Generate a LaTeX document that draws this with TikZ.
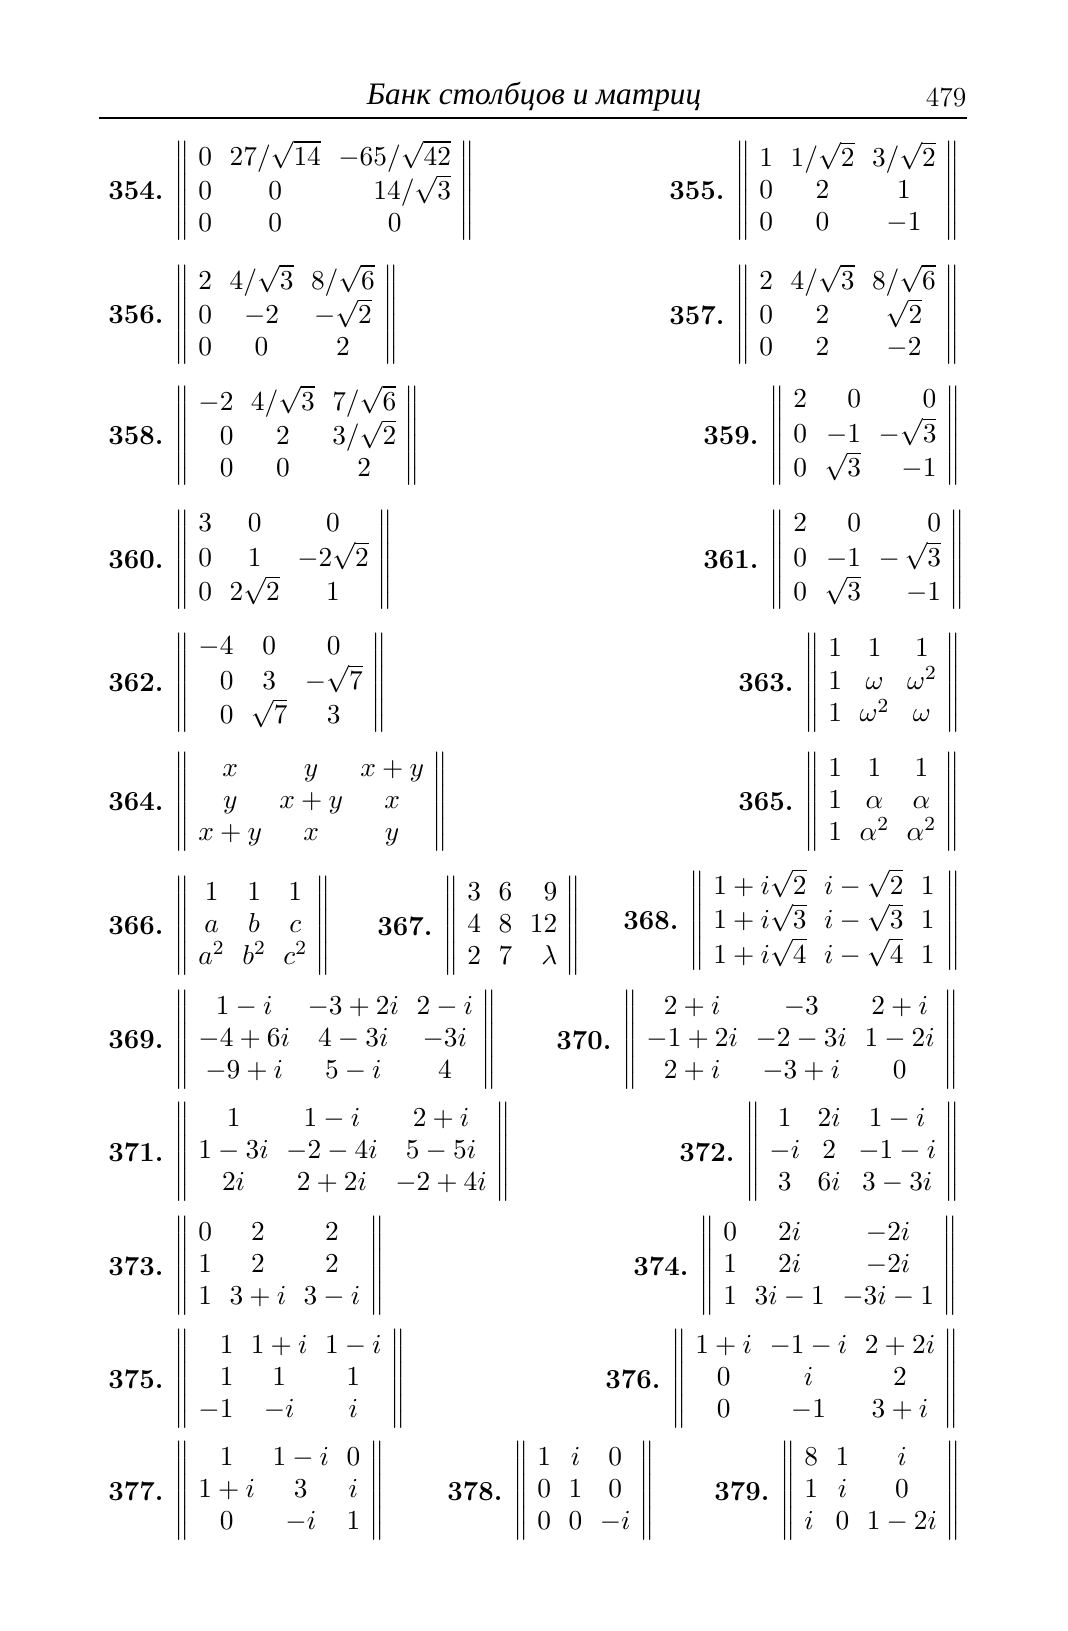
\documentclass[tikz,border=0pt]{standalone}
\usepackage{amsmath}
\usepackage{fontspec}
\newfontfamily\rusfont{Liberation Serif}
\usetikzlibrary{positioning}
\newcommand{\bodysize}{\fontsize{11}{12.9}\selectfont}
\tikzset{numlabel/.style = {font=\bodysize\bfseries, inner sep=0pt},
         matbox/.style = {font=\bodysize, inner sep=0pt, anchor=west}}
\newcommand{\nmat}[3][0]{\setlength\arraycolsep{3.5pt}$\left\|\begin{array}{#2}#3\end{array}\hspace{#1pt}\right\|$}

\begin{document}
\begin{tikzpicture}[x=0.4pt,y=-0.4pt]
            \useasboundingbox (0,0) rectangle (1067,1631);

            % running head
            \node (title) at (534,97) {\rusfont\itshape\fontsize{12.5}{14}\selectfont Банк столбцов и матриц};
            \node[font=\bodysize] (pagenum) at (946,97) {479};
            \draw[line width=0.5pt] (99,118) -- (967,118);

            \node[matbox] (m354) at (174,191) {\nmat{lcc}{0 & 27/\sqrt{14} & -65/\sqrt{42}\\ 0 & 0 & \multicolumn{1}{r}{14/\sqrt{3}}\\ 0 & 0 & 0}};
            \node[numlabel] (n354) [left=4pt of m354] {354.};
            \node[matbox] (m355) at (735,191) {\nmat{lcc}{1 & 1/\sqrt{2} & 3/\sqrt{2}\\ 0 & 2 & 1\\ 0 & 0 & -1}};
            \node[numlabel] (n355) [left=4pt of m355] {355.};

            \node[matbox] (m356) at (174,315) {\nmat{lcc}{2 & 4/\sqrt{3} & 8/\sqrt{6}\\ 0 & -2 & -\sqrt{2}\\ 0 & 0 & 2}};
            \node[numlabel] (n356) [left=4pt of m356] {356.};
            \node[matbox] (m357) at (735,315) {\nmat{lcc}{2 & 4/\sqrt{3} & 8/\sqrt{6}\\ 0 & 2 & \sqrt{2}\\ 0 & 2 & -2}};
            \node[numlabel] (n357) [left=4pt of m357] {357.};

            \node[matbox] (m358) at (174,436) {\nmat{rcc}{-2 & 4/\sqrt{3} & 7/\sqrt{6}\\ 0 & 2 & 3/\sqrt{2}\\ 0 & 0 & 2}};
            \node[numlabel] (n358) [left=4pt of m358] {358.};
            \node[matbox] (m359) at (769,436) {\nmat{lrr}{2 & 0 & 0\\ 0 & -1 & -\sqrt{3}\\ 0 & \sqrt{3} & -1}};
            \node[numlabel] (n359) [left=4pt of m359] {359.};

            \node[matbox] (m360) at (174,560) {\nmat{lcc}{3 & 0 & 0\\ 0 & 1 & -2\sqrt{2}\\ 0 & 2\sqrt{2} & 1}};
            \node[numlabel] (n360) [left=4pt of m360] {360.};
            \node[matbox] (m361) at (769,560) {\nmat{lrr}{2 & 0 & 0\\ 0 & -1 & -\,\sqrt{3}\\ 0 & \sqrt{3} & -1}};
            \node[numlabel] (n361) [left=4pt of m361] {361.};

            \node[matbox] (m362) at (174,683) {\nmat{rcc}{-4 & 0 & 0\\ 0 & 3 & -\sqrt{7}\\ 0 & \sqrt{7} & 3}};
            \node[numlabel] (n362) [left=4pt of m362] {362.};
            \node[matbox] (m363) at (804,683) {\nmat{lcc}{1 & 1 & 1\\ 1 & \omega & \omega^2\\ 1 & \omega^2 & \omega}};
            \node[numlabel] (n363) [left=4pt of m363] {363.};

            \node[matbox] (m364) at (174,802) {\nmat{ccc}{x & y & x+y\\ y & x+y & x\\ x+y & x & y}};
            \node[numlabel] (n364) [left=4pt of m364] {364.};
            \node[matbox] (m365) at (804,802) {\nmat{lcc}{1 & 1 & 1\\ 1 & \alpha & \alpha\\ 1 & \alpha^2 & \alpha^2}};
            \node[numlabel] (n365) [left=4pt of m365] {365.};

            \node[matbox] (m366) at (174,926) {\nmat{ccc}{1 & 1 & 1\\ a & b & c\\ a^2 & b^2 & c^2}};
            \node[numlabel] (n366) [left=4pt of m366] {366.};
            \node[matbox] (m367) at (443,926) {\nmat{ccr}{3 & 6 & 9\\ 4 & 8 & 12\\ 2 & 7 & \lambda}};
            \node[numlabel] (n367) [left=4pt of m367] {367.};
            \node[matbox] (m368) at (689,921) {\nmat[1]{ccc}{1+i\sqrt{2} & i-\sqrt{2} & 1\\ 1+i\sqrt{3} & i-\sqrt{3} & 1\\ 1+i\sqrt{4} & i-\sqrt{4} & 1}};
            \node[numlabel] (n368) [left=4pt of m368] {368.};

            \node[matbox] (m369) at (174,1040) {\nmat{ccc}{1-i & -3+2i & 2-i\\ -4+6i & 4-3i & -3i\\ -9+i & 5-i & 4}};
            \node[numlabel] (n369) [left=4pt of m369] {369.};
            \node[matbox] (m370) at (622,1040) {\nmat{ccc}{2+i & -3 & 2+i\\ -1+2i & -2-3i & 1-2i\\ 2+i & -3+i & 0}};
            \node[numlabel] (n370) [left=4pt of m370] {370.};

            \node[matbox] (m371) at (174,1152) {\nmat{ccc}{1 & 1-i & 2+i\\ 1-3i & -2-4i & 5-5i\\ 2i & 2+2i & -2+4i}};
            \node[numlabel] (n371) [left=4pt of m371] {371.};
            \node[matbox] (m372) at (745,1152) {\nmat{ccc}{1 & 2i & 1-i\\ -i & 2 & -1-i\\ 3 & 6i & 3-3i}};
            \node[numlabel] (n372) [left=4pt of m372] {372.};

            \node[matbox] (m373) at (174,1266) {\nmat{lcc}{0 & 2 & 2\\ 1 & 2 & 2\\ 1 & 3+i & 3-i}};
            \node[numlabel] (n373) [left=4pt of m373] {373.};
            \node[matbox] (m374) at (699,1266) {\nmat{lcc}{0 & 2i & -2i\\ 1 & 2i & -2i\\ 1 & 3i-1 & -3i-1}};
            \node[numlabel] (n374) [left=4pt of m374] {374.};

            \node[matbox] (m375) at (174,1379) {\nmat{rcc}{1 & 1+i & 1-i\\ 1 & 1 & 1\\ -1 & -i & i}};
            \node[numlabel] (n375) [left=4pt of m375] {375.};
            \node[matbox] (m376) at (671,1379) {\nmat{ccc}{1+i & -1-i & 2+2i\\ 0 & i & 2\\ 0 & -1 & 3+i}};
            \node[numlabel] (n376) [left=4pt of m376] {376.};

            \node[matbox] (m377) at (174,1491) {\nmat{ccc}{1 & 1-i & 0\\ 1+i & 3 & i\\ 0 & -i & 1}};
            \node[numlabel] (n377) [left=4pt of m377] {377.};
            \node[matbox] (m378) at (513,1491) {\nmat{ccc}{1 & i & 0\\ 0 & 1 & 0\\ 0 & 0 & -i}};
            \node[numlabel] (n378) [left=4pt of m378] {378.};
            \node[matbox] (m379) at (780,1491) {\nmat{lcc}{8 & 1 & i\\ 1 & i & 0\\ i & 0 & 1-2i}};
            \node[numlabel] (n379) [left=4pt of m379] {379.};

        \end{tikzpicture}
\end{document}
